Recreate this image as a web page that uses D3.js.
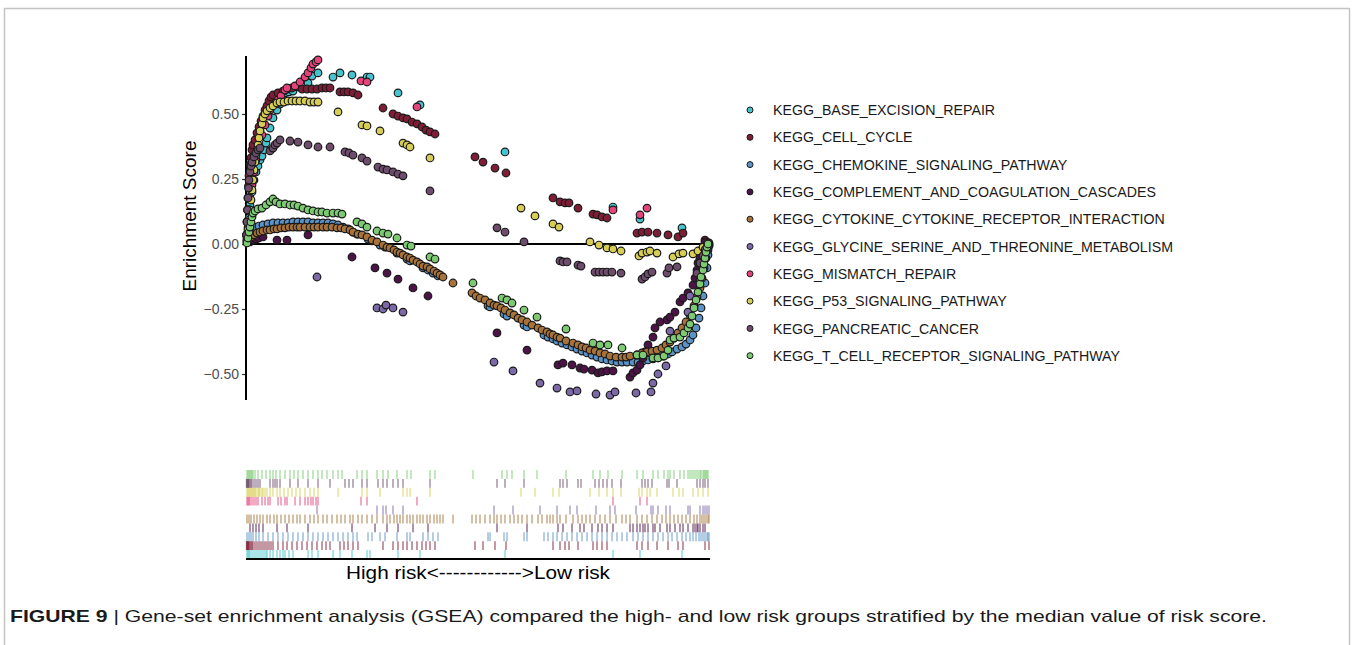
<!DOCTYPE html>
<html>
<head>
<meta charset="utf-8">
<script src="https://cdn.jsdelivr.net/npm/d3@7"></script>
<style>
  body { margin: 0; background: #fff; }
  svg { display: block; }
  text { font-family: "Liberation Sans", Arial, sans-serif; }
</style>
</head>
<body>
<div id="chart"></div>
<script>
// gene sets, in legend order
var pathways = [
  "KEGG_BASE_EXCISION_REPAIR",
  "KEGG_CELL_CYCLE",
  "KEGG_CHEMOKINE_SIGNALING_PATHWAY",
  "KEGG_COMPLEMENT_AND_COAGULATION_CASCADES",
  "KEGG_CYTOKINE_CYTOKINE_RECEPTOR_INTERACTION",
  "KEGG_GLYCINE_SERINE_AND_THREONINE_METABOLISM",
  "KEGG_MISMATCH_REPAIR",
  "KEGG_P53_SIGNALING_PATHWAY",
  "KEGG_PANCREATIC_CANCER",
  "KEGG_T_CELL_RECEPTOR_SIGNALING_PATHWAY"
];
var colors = ["#45c4d0", "#7d1d36", "#5b93c6", "#4b1346", "#a8733b",
              "#7c69a7", "#e4437b", "#d7ce55", "#6d4d6b", "#7ccb72"];

// running enrichment score at each hit: [gene rank, ES]
var baseExcision = [[10,0.023],[20,0.062],[30,0.100],[40,0.150],[60,0.200],[80,0.246],[100,0.277],[120,0.300],[140,0.323],[160,0.338],[180,0.362],[200,0.388],[210,0.408],[240,0.446],[270,0.485],[310,0.515],[340,0.538],[370,0.565],[390,0.581],[430,0.585],[470,0.588],[620,0.619],[660,0.646],[720,0.658],[870,0.642],[940,0.658],[1060,0.650],[1210,0.642],[1240,0.642],[1520,0.581],[1740,0.535],[2590,0.354],[3670,0.142],[3940,0.096],[4360,0.062]];
var cellCycle = [[5,0.035],[10,0.085],[15,0.131],[20,0.177],[25,0.223],[30,0.262],[40,0.304],[50,0.331],[60,0.362],[70,0.381],[90,0.400],[110,0.427],[130,0.450],[150,0.473],[170,0.492],[190,0.515],[210,0.531],[230,0.550],[250,0.565],[270,0.573],[320,0.581],[370,0.588],[410,0.596],[460,0.600],[510,0.604],[560,0.596],[610,0.596],[660,0.596],[710,0.596],[760,0.600],[800,0.600],[840,0.600],[940,0.585],[980,0.585],[1020,0.585],[1070,0.581],[1120,0.573],[1370,0.523],[1470,0.500],[1520,0.492],[1570,0.485],[1610,0.481],[1660,0.469],[1710,0.462],[1760,0.450],[1800,0.438],[1840,0.431],[1890,0.423],[2290,0.335],[2370,0.315],[2490,0.292],[2600,0.273],[3070,0.177],[3140,0.162],[3190,0.158],[3230,0.158],[3320,0.138],[3470,0.115],[3510,0.112],[3560,0.104],[3610,0.100],[3910,0.042],[3960,0.046],[4020,0.046],[4110,0.042],[4220,0.035],[4320,0.027],[4370,0.042],[4590,0.015],[4630,0.004]];
var chemokine = [[10,0.012],[30,0.031],[50,0.046],[70,0.058],[100,0.065],[130,0.069],[170,0.073],[220,0.077],[270,0.081],[320,0.081],[370,0.081],[420,0.081],[470,0.085],[520,0.085],[570,0.085],[620,0.085],[670,0.081],[720,0.081],[770,0.081],[820,0.081],[870,0.077],[920,0.073],[970,0.065],[1020,0.058],[1070,0.046],[1110,0.038],[1220,0.019],[1260,0.012],[1340,-0.004],[1390,-0.012],[1510,-0.035],[1610,-0.058],[1640,-0.065],[1770,-0.092],[1820,-0.100],[1870,-0.112],[1920,-0.123],[2420,-0.238],[2440,-0.242],[2580,-0.269],[2610,-0.277],[2780,-0.312],[2810,-0.319],[2980,-0.350],[3020,-0.358],[3070,-0.365],[3110,-0.373],[3160,-0.381],[3210,-0.388],[3260,-0.396],[3310,-0.404],[3360,-0.412],[3410,-0.419],[3460,-0.427],[3510,-0.435],[3560,-0.442],[3610,-0.446],[3660,-0.450],[3710,-0.454],[3760,-0.454],[3810,-0.454],[3870,-0.454],[3920,-0.454],[3970,-0.450],[4020,-0.446],[4070,-0.442],[4120,-0.438],[4170,-0.431],[4220,-0.423],[4260,-0.415],[4310,-0.404],[4360,-0.396],[4400,-0.385],[4440,-0.369],[4470,-0.350],[4500,-0.323],[4530,-0.285],[4550,-0.246],[4570,-0.200],[4590,-0.150],[4610,-0.092],[4620,-0.042],[4630,-0.008]];
var complement = [[40,0.008],[70,0.015],[100,0.019],[130,0.023],[170,0.027],[310,0.015],[410,0.015],[620,0.035],[1060,-0.050],[1290,-0.092],[1410,-0.112],[1520,-0.135],[1670,-0.169],[1820,-0.200],[2510,-0.342],[2810,-0.408],[3120,-0.465],[3170,-0.458],[3260,-0.465],[3340,-0.477],[3380,-0.481],[3460,-0.485],[3520,-0.496],[3560,-0.492],[3610,-0.488],[3670,-0.488],[3840,-0.512],[3870,-0.496],[3910,-0.485],[3940,-0.465],[3970,-0.438],[3990,-0.415],[4020,-0.388],[4070,-0.358],[4090,-0.323],[4140,-0.300],[4210,-0.292],[4240,-0.281],[4290,-0.262],[4340,-0.223],[4370,-0.208],[4420,-0.188],[4470,-0.158],[4490,-0.131],[4510,-0.100],[4520,-0.073],[4540,-0.054],[4570,-0.015],[4590,0.008]];
var cytokine = [[10,0.008],[30,0.019],[50,0.027],[80,0.035],[110,0.042],[140,0.046],[170,0.050],[210,0.054],[240,0.054],[280,0.058],[310,0.058],[350,0.062],[390,0.062],[430,0.065],[470,0.065],[510,0.065],[540,0.065],[590,0.065],[640,0.065],[680,0.065],[720,0.065],[770,0.065],[810,0.065],[860,0.065],[910,0.062],[950,0.062],[990,0.058],[1040,0.054],[1070,0.046],[1120,0.038],[1160,0.035],[1210,0.027],[1260,0.015],[1310,0.008],[1370,-0.004],[1410,-0.012],[1440,-0.015],[1480,-0.023],[1510,-0.031],[1540,-0.035],[1570,-0.042],[1610,-0.050],[1640,-0.054],[1670,-0.062],[1710,-0.069],[1740,-0.077],[1770,-0.085],[1810,-0.088],[1840,-0.096],[1880,-0.104],[1910,-0.112],[1940,-0.119],[1970,-0.127],[2070,-0.150],[2260,-0.188],[2300,-0.200],[2340,-0.208],[2390,-0.215],[2440,-0.227],[2480,-0.235],[2510,-0.238],[2550,-0.246],[2590,-0.254],[2640,-0.265],[2680,-0.273],[2720,-0.285],[2760,-0.292],[2810,-0.300],[2860,-0.312],[2920,-0.323],[2960,-0.331],[3010,-0.338],[3040,-0.346],[3070,-0.350],[3110,-0.358],[3140,-0.362],[3200,-0.373],[3270,-0.381],[3320,-0.388],[3360,-0.396],[3400,-0.400],[3440,-0.408],[3490,-0.412],[3540,-0.419],[3590,-0.423],[3640,-0.431],[3700,-0.435],[3760,-0.435],[3800,-0.435],[3840,-0.431],[3910,-0.427],[3960,-0.419],[4010,-0.415],[4060,-0.412],[4110,-0.408],[4160,-0.400],[4200,-0.388],[4240,-0.377],[4280,-0.362],[4320,-0.342],[4360,-0.323],[4400,-0.300],[4440,-0.273],[4480,-0.238],[4510,-0.204],[4540,-0.169],[4560,-0.131],[4580,-0.092],[4600,-0.054],[4620,-0.023],[4630,-0.004]];
var glycine = [[710,-0.127],[1310,-0.246],[1370,-0.250],[1400,-0.235],[1470,-0.246],[1570,-0.262],[2480,-0.454],[2670,-0.488],[2940,-0.535],[3110,-0.554],[3240,-0.569],[3310,-0.565],[3500,-0.577],[3640,-0.581],[3690,-0.569],[3900,-0.573],[4050,-0.569],[4070,-0.535],[4120,-0.500],[4200,-0.469],[4240,-0.335],[4420,-0.262],[4440,-0.200],[4540,-0.138],[4570,-0.092],[4590,-0.054],[4610,-0.023],[4630,0.000]];
var mismatch = [[10,0.035],[20,0.085],[30,0.131],[40,0.177],[60,0.227],[80,0.277],[100,0.323],[120,0.362],[160,0.419],[190,0.458],[220,0.492],[240,0.515],[320,0.554],[350,0.569],[390,0.592],[410,0.600],[490,0.608],[540,0.623],[590,0.642],[620,0.658],[650,0.677],[670,0.692],[700,0.700],[720,0.708],[1150,0.627],[1210,0.623],[1710,0.527],[3670,0.131],[3940,0.112],[4010,0.138]];
var p53 = [[10,0.015],[20,0.054],[30,0.092],[40,0.131],[50,0.169],[60,0.208],[70,0.246],[80,0.285],[90,0.315],[100,0.342],[120,0.381],[130,0.408],[140,0.435],[160,0.462],[170,0.485],[190,0.500],[210,0.512],[240,0.523],[270,0.531],[310,0.542],[340,0.546],[380,0.546],[420,0.550],[460,0.550],[500,0.550],[540,0.550],[590,0.550],[640,0.546],[680,0.546],[720,0.546],[920,0.508],[1160,0.458],[1210,0.454],[1340,0.435],[1570,0.388],[1610,0.381],[1640,0.373],[1840,0.331],[2750,0.138],[2890,0.108],[3070,0.077],[3130,0.065],[3440,0.008],[3530,-0.004],[3610,-0.015],[3670,-0.019],[3750,-0.027],[3930,-0.046],[3960,-0.035],[4010,-0.031],[4040,-0.027],[4110,-0.035],[4270,-0.050],[4330,-0.038],[4370,-0.035],[4470,-0.038],[4520,-0.027],[4570,-0.012],[4620,0.004]];
var pancreatic = [[5,0.035],[10,0.085],[15,0.131],[20,0.177],[25,0.215],[30,0.246],[40,0.277],[50,0.300],[60,0.315],[80,0.335],[100,0.350],[120,0.362],[140,0.369],[240,0.358],[270,0.369],[290,0.381],[310,0.388],[340,0.400],[440,0.396],[520,0.392],[620,0.381],[720,0.373],[840,0.373],[990,0.354],[1030,0.350],[1070,0.342],[1160,0.331],[1210,0.319],[1320,0.296],[1370,0.288],[1410,0.285],[1470,0.277],[1520,0.269],[1570,0.262],[1840,0.204],[2510,0.062],[2590,0.046],[2780,0.008],[3140,-0.065],[3170,-0.069],[3210,-0.069],[3320,-0.081],[3350,-0.085],[3490,-0.108],[3530,-0.108],[3570,-0.108],[3610,-0.108],[3660,-0.108],[3750,-0.112],[3960,-0.135],[3990,-0.127],[4020,-0.115],[4060,-0.108],[4210,-0.112],[4230,-0.092],[4310,-0.088],[4510,-0.112],[4540,-0.073],[4570,-0.046],[4590,-0.023],[4620,0.000]];
var tCell = [[10,0.004],[20,0.023],[30,0.046],[40,0.065],[50,0.085],[60,0.104],[70,0.119],[90,0.127],[120,0.135],[160,0.138],[200,0.150],[240,0.162],[270,0.173],[300,0.162],[340,0.154],[390,0.154],[440,0.150],[480,0.150],[520,0.146],[570,0.138],[620,0.131],[670,0.127],[720,0.123],[760,0.123],[810,0.119],[870,0.119],[920,0.119],[960,0.115],[1110,0.085],[1160,0.077],[1210,0.065],[1310,0.050],[1370,0.042],[1420,0.038],[1510,0.023],[1610,-0.004],[1650,-0.008],[1840,-0.050],[1890,-0.058],[2270,-0.150],[2560,-0.208],[2610,-0.215],[2660,-0.227],[2780,-0.254],[2910,-0.281],[3200,-0.327],[3470,-0.381],[3540,-0.388],[3620,-0.388],[3760,-0.400],[3910,-0.427],[3970,-0.427],[4070,-0.438],[4120,-0.438],[4180,-0.431],[4220,-0.408],[4240,-0.369],[4280,-0.362],[4340,-0.358],[4380,-0.342],[4420,-0.323],[4440,-0.308],[4460,-0.277],[4480,-0.246],[4500,-0.215],[4520,-0.185],[4540,-0.154],[4550,-0.127],[4570,-0.100],[4580,-0.077],[4590,-0.054],[4600,-0.031],[4610,-0.012],[4620,0.000]];

var seriesValues = [baseExcision, cellCycle, chemokine, complement, cytokine,
                    glycine, mismatch, p53, pancreatic, tCell];

var yTicks = [-0.50, -0.25, 0.00, 0.25, 0.50];
var yTitle = "Enrichment Score";
var xTitle = "High risk<------------>Low risk";
var captionBold = "FIGURE 9";
var captionText = " | Gene-set enrichment analysis (GSEA) compared the high- and low risk groups stratified by the median value of risk score.";

var W = 1352, H = 645;
var svg = d3.select("#chart").append("svg")
    .attr("width", W)
    .attr("height", H);

// figure frame
svg.append("rect")
    .attr("x", 4.5).attr("y", 8.5)
    .attr("width", 1345).attr("height", 660)
    .attr("fill", "none")
    .attr("stroke", "#c4c4c4")
    .attr("stroke-width", 1.5);

var x = d3.scaleLinear().domain([0, 4640]).range([246, 710]);
var y = d3.scaleLinear().domain([-0.6, 0.723]).range([400, 56]);

// y axis
var yAxis = d3.axisLeft(y)
    .tickValues(yTicks)
    .tickFormat(function(d) { return d3.format(".2f")(d).replace("-", "\u2212"); })
    .tickSize(4)
    .tickPadding(3);

var gy = svg.append("g")
    .attr("transform", "translate(246,0)")
    .call(yAxis);
gy.select(".domain").remove();
gy.selectAll(".tick line").attr("stroke", "#333").attr("stroke-width", 1.2);
gy.selectAll(".tick text")
    .attr("fill", "#4d4d4d")
    .style("font-size", "14px")
    .style("font-family", "'Liberation Sans', Arial, sans-serif");

svg.append("line")
    .attr("x1", 246).attr("x2", 246)
    .attr("y1", y.range()[0]).attr("y2", y.range()[1])
    .attr("stroke", "#000").attr("stroke-width", 2);

svg.append("text")
    .attr("transform", "translate(196,216) rotate(-90)")
    .attr("text-anchor", "middle")
    .style("font-size", "19px")
    .attr("fill", "#000")
    .text(yTitle);

// zero line
svg.append("line")
    .attr("x1", x(0)).attr("x2", x(4640))
    .attr("y1", y(0)).attr("y2", y(0))
    .attr("stroke", "#000").attr("stroke-width", 2);

// points
var pts = svg.append("g").attr("class", "points");
seriesValues.forEach(function(vals, i) {
    pts.append("g").selectAll("circle")
        .data(vals)
        .enter()
        .append("circle")
        .attr("cx", function(d) { return x(d[0]); })
        .attr("cy", function(d) { return y(d[1]); })
        .attr("r", 3.8)
        .attr("fill", colors[i])
        .attr("stroke", "#1a1a1a")
        .attr("stroke-width", 1.2);
});

// rug of hits, one row per gene set (first set at the bottom)
var rugTop = 470, rugBottom = 559;
var rowH = (rugBottom - rugTop) / pathways.length;
var rug = svg.append("g").attr("class", "rug");
seriesValues.forEach(function(vals, i) {
    var row = pathways.length - 1 - i;
    rug.append("g").selectAll("line")
        .data(vals)
        .enter()
        .append("line")
        .attr("x1", function(d) { return x(d[0]); })
        .attr("x2", function(d) { return x(d[0]); })
        .attr("y1", rugTop + row * rowH)
        .attr("y2", rugTop + (row + 1) * rowH)
        .attr("stroke", colors[i])
        .attr("stroke-opacity", 0.7)
        .attr("stroke-width", 1.3);
});

svg.append("line")
    .attr("x1", x(0)).attr("x2", x(4640))
    .attr("y1", rugBottom).attr("y2", rugBottom)
    .attr("stroke", "#000").attr("stroke-width", 2);

svg.append("text")
    .attr("x", (x(0) + x(4640)) / 2)
    .attr("y", 579)
    .attr("text-anchor", "middle")
    .style("font-size", "18px")
    .attr("textLength", 264)
    .attr("lengthAdjust", "spacingAndGlyphs")
    .attr("fill", "#000")
    .text(xTitle);

// legend
var legend = svg.append("g").attr("transform", "translate(750,110)");
var item = legend.selectAll("g")
    .data(pathways)
    .enter()
    .append("g")
    .attr("transform", function(d, i) { return "translate(0," + (i * 27.3) + ")"; });
item.append("circle")
    .attr("r", 3)
    .attr("fill", function(d, i) { return colors[i]; })
    .attr("stroke", "#1a1a1a")
    .attr("stroke-width", 1);
item.append("text")
    .attr("x", 23)
    .attr("dy", "0.36em")
    .style("font-size", "14.2px")
    .attr("fill", "#1a1a1a")
    .text(function(d) { return d; });

// caption
var cap = svg.append("text")
    .attr("x", 10)
    .attr("y", 622)
    .style("font-size", "17px")
    .attr("textLength", 1257)
    .attr("lengthAdjust", "spacingAndGlyphs")
    .attr("fill", "#1a1a1a");
cap.append("tspan").attr("font-weight", "bold").text(captionBold);
cap.append("tspan").text(captionText);
</script>
</body>
</html>
